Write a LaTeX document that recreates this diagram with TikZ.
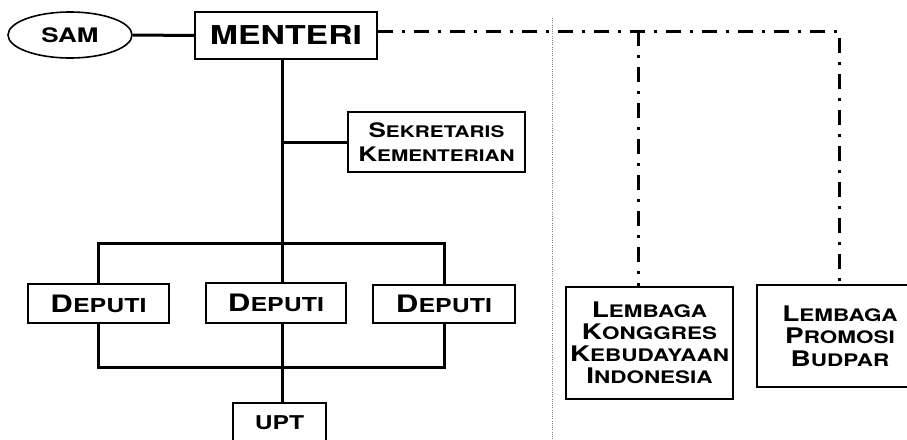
\documentclass[tikz,border=0pt]{standalone}
\usepackage{fontspec}
\usepackage{relsize}
\usetikzlibrary{shapes.geometric}
\newfontfamily\cpfont[FakeStretch=1.3]{TeX Gyre Heros}
\newcommand\scap[2]{#1{\relscale{0.8}#2}}

\begin{document}
\begin{tikzpicture}[x=1pt,y=-1pt,
		box/.style={draw,line width=1.6pt,inner sep=0pt,align=center},
		conn/.style={line width=3pt},
		dashdot/.style={line width=3pt,dash pattern=on 15pt off 9pt on 3pt off 9pt},
		sepline/.style={gray,line width=0.9pt,dash pattern=on 1pt off 1.2pt}]
	\useasboundingbox (0,0) rectangle (907,439);
	\clip (0,0) rectangle (907,439);
	% top
	\node[box,ellipse,minimum width=124pt,minimum height=46pt,font=\cpfont\bfseries\fontsize{20}{20}\selectfont] (sam) at (70,35) {SAM};
	\node[box,minimum width=182pt,minimum height=47pt,font=\cpfont\bfseries\fontsize{26}{26}\selectfont] (menteri) at (286,35.5) {MENTERI};
	\node[box,minimum width=177pt,minimum height=60pt,font=\cpfont\bfseries\fontsize{20}{24}\selectfont] (sekre) at (436.5,142) {\scap{S}{EKRETARIS}\\\scap{K}{EMENTERIAN}};
	% deputi
	\node[box,minimum width=141pt,minimum height=39pt,font=\cpfont\bfseries\fontsize{24}{24}\selectfont] (dep1) at (98.5,303.5) {\scap{D}{EPUTI}};
	\node[box,minimum width=140pt,minimum height=40pt,font=\cpfont\bfseries\fontsize{24}{24}\selectfont] (dep2) at (276,303) {\scap{D}{EPUTI}};
	\node[box,minimum width=142pt,minimum height=38pt,font=\cpfont\bfseries\fontsize{24}{24}\selectfont] (dep3) at (444,304) {\scap{D}{EPUTI}};
	\node[box,minimum width=93pt,minimum height=40pt,font=\cpfont\bfseries\fontsize{19}{19}\selectfont] (upt) at (279.5,423) {UPT};
	% lembaga
	\node[box,minimum width=167pt,minimum height=112pt,font=\cpfont\bfseries\fontsize{21.5}{22}\selectfont] (lk) at (649.5,343) {\scap{L}{EMBAGA}\\\scap{K}{ONGGRES}\\\scap{K}{EBUDAYAAN}\\\scap{I}{NDONESIA}};
	\node[box,minimum width=166pt,minimum height=102pt,font=\cpfont\bfseries\fontsize{21.5}{22.5}\selectfont] (lp) at (840,336) {\scap{L}{EMBAGA}\\\scap{P}{ROMOSI}\\\scap{B}{UDPAR}};
	% lines
	\coordinate (spine) at (282,0);
	\coordinate (topbar) at (0,243);
	\coordinate (botbar) at (0,367);
	\coordinate (j1) at (638,31);
	\coordinate (j2) at (839,31);
	\draw[conn] (sam.east) -- (menteri.west);
	\draw[conn] (menteri.south -| spine) -- (dep2.north -| spine);
	\draw[conn] (sekre.west) -- (sekre.west -| spine);
	\draw[conn] (dep1.north) |- (topbar -| dep3.north) -- (dep3.north);
	\draw[conn] (dep1.south) |- (botbar -| dep3.south) -- (dep3.south);
	\draw[conn] (dep2.south -| spine) -- (upt.north -| spine);
	\draw[dashdot] (menteri.east |- j1) -- (j2) -- (j2 |- lp.north);
	\draw[dashdot] (j1) -- (j1 |- lk.north);
	\draw[sepline] (552,18) -- (552,439);
\end{tikzpicture}
\end{document}
